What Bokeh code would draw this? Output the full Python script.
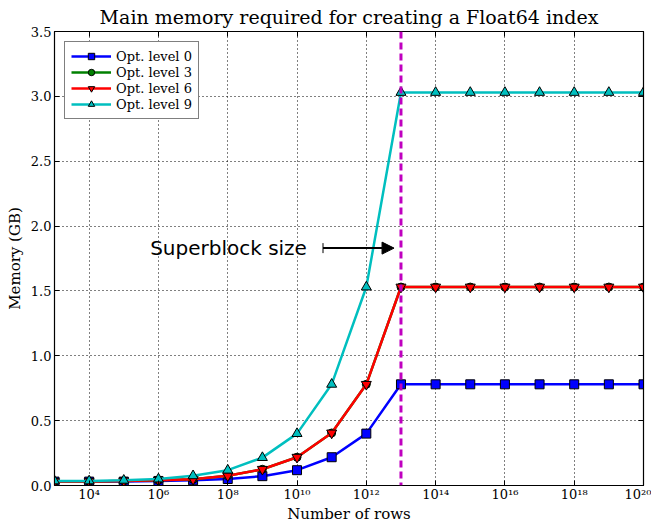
from bokeh.plotting import figure
from bokeh.models import (FixedTicker, LinearAxis, LogAxis, Span, Arrow, NormalHead, TeeHead,
                          Label, Legend, LegendItem, Range1d, NumeralTickFormatter)
from bokeh.embed import file_html
from bokeh.resources import INLINE

# Data
rows = [1e3, 1e4, 1e5, 1e6, 1e7, 1e8, 1e9, 1e10, 1e11, 1e12, 1e13,
        1e14, 1e15, 1e16, 1e17, 1e18, 1e19, 1e20]
opt0 = [0.03, 0.03, 0.03, 0.035, 0.04, 0.05, 0.072, 0.118, 0.218, 0.40, 0.78,
        0.78, 0.78, 0.78, 0.78, 0.78, 0.78, 0.78]
opt3 = [0.03, 0.03, 0.035, 0.04, 0.048, 0.075, 0.125, 0.218, 0.405, 0.78, 1.53,
        1.53, 1.53, 1.53, 1.53, 1.53, 1.53, 1.53]
opt6 = [0.03, 0.03, 0.035, 0.04, 0.048, 0.075, 0.125, 0.218, 0.405, 0.78, 1.53,
        1.53, 1.53, 1.53, 1.53, 1.53, 1.53, 1.53]
opt9 = [0.035, 0.035, 0.04, 0.05, 0.075, 0.118, 0.215, 0.40, 0.78, 1.53, 3.03,
        3.03, 3.03, 3.03, 3.03, 3.03, 3.03, 3.03]
superblock = 1e13
x_ticks = [1e4, 1e6, 1e8, 1e10, 1e12, 1e14, 1e16, 1e18, 1e20]
x_tick_labels = ["10⁴", "10⁶", "10⁸", "10¹⁰", "10¹²", "10¹⁴", "10¹⁶", "10¹⁸", "10²⁰"]
y_ticks = [0.0, 0.5, 1.0, 1.5, 2.0, 2.5, 3.0, 3.5]

SERIF = "DejaVu Serif"

p = figure(width=651, height=525, x_axis_type="log", output_backend="svg",
           toolbar_location=None, x_range=Range1d(1e3, 1e20), y_range=Range1d(0, 3.5),
           min_border_left=54, min_border_right=8, min_border_top=1, min_border_bottom=30)
p.title.text = "Main memory required for creating a Float64 index"
p.title.text_font = SERIF
p.title.text_font_size = "19px"
p.title.text_font_style = "normal"
p.title.text_color = "black"
p.title.align = "center"
p.title.standoff = 7

p.background_fill_color = "white"
p.border_fill_color = "white"
p.outline_line_color = "black"
p.outline_line_width = 1.2

xt = FixedTicker(ticks=x_ticks, minor_ticks=[])
yt = FixedTicker(ticks=y_ticks, minor_ticks=[])

def style_axis(ax, labels=True):
    ax.major_tick_in = 5
    ax.major_tick_out = 0
    ax.minor_tick_in = 0
    ax.minor_tick_out = 0
    ax.axis_line_color = "black"
    ax.major_tick_line_color = "black"
    ax.major_label_text_font = SERIF
    ax.major_label_text_font_size = "13px"
    ax.major_label_text_color = "black"
    ax.axis_label_text_font = SERIF
    ax.axis_label_text_font_size = "15px"
    ax.axis_label_text_font_style = "normal"
    ax.axis_label_text_color = "black"
    if not labels:
        ax.major_label_text_color = None
        ax.major_label_standoff = 0

xa = p.xaxis[0]
xa.ticker = xt
xa.major_label_overrides = {t: l for t, l in zip(x_ticks, x_tick_labels)}
xa.axis_label = "Number of rows"
style_axis(xa)
xa.major_label_standoff = 1
xa.axis_label_standoff = 0

ya = p.yaxis[0]
ya.ticker = yt
ya.formatter = NumeralTickFormatter(format="0.0")
ya.axis_label = "Memory (GB)"
style_axis(ya)
ya.major_label_standoff = 3
ya.axis_label_standoff = 4

top = LogAxis(ticker=xt)
style_axis(top, labels=False)
p.add_layout(top, "above")
right = LinearAxis(ticker=yt)
style_axis(right, labels=False)
p.add_layout(right, "right")

p.xgrid.ticker = xt
p.ygrid.ticker = yt
for g in (p.xgrid[0], p.ygrid[0]):
    g.grid_line_color = "black"
    g.grid_line_dash = "1 3"
    g.grid_line_width = 1

series = [
    ("Opt. level 0", opt0, "#0000ff", "square", 9),
    ("Opt. level 3", opt3, "#008000", "circle", 8),
    ("Opt. level 6", opt6, "#ff0000", "inverted_triangle", 10),
    ("Opt. level 9", opt9, "#00bfbf", "triangle", 10),
]
items = []
for name, ys, col, mk, sz in series:
    l = p.line(rows, ys, line_color=col, line_width=2.5)
    m = p.scatter(rows, ys, marker=mk, size=sz, fill_color=col, line_color="black", line_width=1)
    items.append(LegendItem(label=name, renderers=[l, m]))

vline = Span(location=superblock, dimension="height", line_color="#bf00bf",
             line_width=3, line_dash="7 4")
p.add_layout(vline)

arrow = Arrow(end=NormalHead(size=12, fill_color="black", line_color="black"),
              start=TeeHead(size=10, line_color="black", line_width=1),
              x_start=10**10.75, y_start=1.83, x_end=10**12.8, y_end=1.83,
              line_color="black", line_width=2)
p.add_layout(arrow)
p.add_layout(Label(x=10**5.76, y=1.83, text="Superblock size", text_font="DejaVu Sans",
                   text_font_size="20px", text_baseline="middle", text_color="black"))

leg = Legend(items=items, location="top_left")
leg.label_text_font = SERIF
leg.label_text_font_size = "13px"
leg.label_text_color = "black"
leg.border_line_color = "black"
leg.border_line_width = 1
leg.margin = 10
leg.padding = 6
leg.spacing = 0
leg.glyph_width = 40
leg.glyph_height = 16
leg.label_height = 16
leg.background_fill_alpha = 1
p.add_layout(leg)

open("out.html", "w").write(file_html(p, INLINE))
